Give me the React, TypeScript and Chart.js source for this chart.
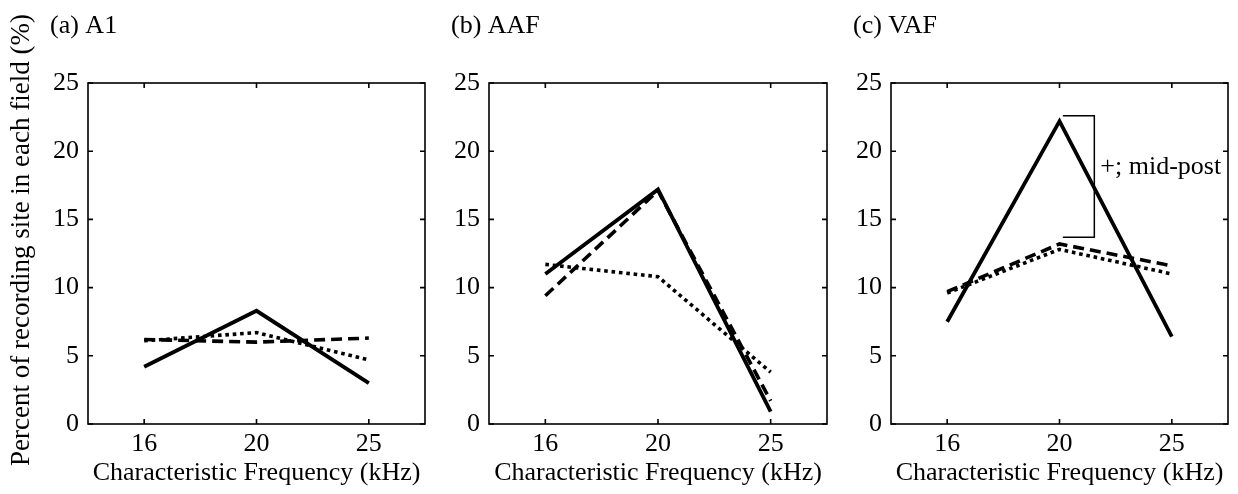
import React, { useEffect, useRef } from 'react';
import { Chart, registerables } from 'chart.js';

Chart.register(...registerables);

const categories = ['16', '20', '25'];
const yMin = 0;
const yMax = 25;
const yStep = 5;

const a1Solid = [4.2, 8.3, 3.0];
const a1Dashed = [6.2, 6.0, 6.3];
const a1Dotted = [6.1, 6.7, 4.7];

const aafSolid = [11.0, 17.2, 0.9];
const aafDashed = [9.4, 17.1, 1.7];
const aafDotted = [11.7, 10.8, 3.8];

const vafSolid = [7.5, 22.2, 6.4];
const vafDashed = [9.7, 13.2, 11.6];
const vafDotted = [9.6, 12.8, 11.0];

const panelTitles = ['(a) A1', '(b) AAF', '(c) VAF'];
const xAxisTitle = 'Characteristic Frequency (kHz)';
const yAxisTitle = 'Percent of recording site in each field (%)';

// annotation in panel (c), in data units
const bracketLabel = '+; mid-post';
const bracketX = [1.03, 1.31];
const bracketY = [13.7, 22.6];
const bracketLabelY = 18.8;

const FONT = '"Liberation Serif", "Times New Roman", serif';
const FS = 26;

type Panel = {
  title: string;
  solid: number[];
  dashed: number[];
  dotted: number[];
  left: number;
  width: number;
  yAxisWidth: number;
  padRight: number;
  showYTitle: boolean;
  bracket: boolean;
};

const panels: Panel[] = [
  { title: panelTitles[0], solid: a1Solid, dashed: a1Dashed, dotted: a1Dotted, left: 0, width: 430, yAxisWidth: 88, padRight: 5, showYTitle: true, bracket: false },
  { title: panelTitles[1], solid: aafSolid, dashed: aafDashed, dotted: aafDotted, left: 430, width: 400, yAxisWidth: 59, padRight: 3, showYTitle: false, bracket: false },
  { title: panelTitles[2], solid: vafSolid, dashed: vafDashed, dotted: vafDotted, left: 830, width: 408, yAxisWidth: 61, padRight: 10, showYTitle: false, bracket: true },
];

const HEIGHT = 494;

function PanelChart({ p }: { p: Panel }) {
  const ref = useRef<HTMLCanvasElement | null>(null);
  useEffect(() => {
    if (!ref.current) return;
    const decor = {
      id: 'decor',
      afterDraw(chart: any) {
        const ctx = chart.ctx;
        const a = chart.chartArea;
        const xs = chart.scales.x;
        const ys = chart.scales.y;
        ctx.save();
        ctx.strokeStyle = '#000';
        ctx.lineWidth = 1.6;
        ctx.strokeRect(a.left, a.top, a.right - a.left, a.bottom - a.top);
        const tl = 5;
        ctx.beginPath();
        for (let i = 0; i < categories.length; i++) {
          const px = xs.getPixelForTick(i);
          ctx.moveTo(px, a.bottom);
          ctx.lineTo(px, a.bottom - tl);
          ctx.moveTo(px, a.top);
          ctx.lineTo(px, a.top + tl);
        }
        for (let v = yMin; v <= yMax; v += yStep) {
          const py = ys.getPixelForValue(v);
          ctx.moveTo(a.left, py);
          ctx.lineTo(a.left + tl, py);
          ctx.moveTo(a.right, py);
          ctx.lineTo(a.right - tl, py);
        }
        ctx.stroke();

        ctx.fillStyle = '#000';
        ctx.font = `${FS}px ${FONT}`;
        ctx.textAlign = 'left';
        ctx.textBaseline = 'middle';
        ctx.fillText(p.title, a.left - 38, 26);

        if (p.showYTitle) {
          ctx.save();
          ctx.translate(a.left - 66, 240);
          ctx.rotate(-Math.PI / 2);
          ctx.textAlign = 'center';
          ctx.textBaseline = 'middle';
          ctx.font = `${FS + 1}px ${FONT}`;
          ctx.fillText(yAxisTitle, 0, 0);
          ctx.restore();
        }

        if (p.bracket) {
          const x1 = xs.getPixelForValue(bracketX[0]);
          const x2 = xs.getPixelForValue(bracketX[1]);
          const y1 = ys.getPixelForValue(bracketY[1]);
          const y2 = ys.getPixelForValue(bracketY[0]);
          ctx.lineWidth = 1.5;
          ctx.beginPath();
          ctx.moveTo(x1, y1);
          ctx.lineTo(x2, y1);
          ctx.lineTo(x2, y2);
          ctx.lineTo(x1, y2);
          ctx.stroke();
          ctx.textAlign = 'left';
          ctx.textBaseline = 'middle';
          ctx.fillText(bracketLabel, x2 + 6, ys.getPixelForValue(bracketLabelY));
        }
        ctx.restore();
      },
    };

    const lineBase = { borderColor: '#000', borderWidth: 3.6, pointRadius: 0, fill: false, tension: 0 };
    const chart = new Chart(ref.current, {
      type: 'line',
      data: {
        labels: categories,
        datasets: [
          { ...lineBase, label: 'dotted', data: p.dotted, borderDash: [3.6, 3.8] },
          { ...lineBase, label: 'dashed', data: p.dashed, borderDash: [11, 6] },
          { ...lineBase, label: 'solid', data: p.solid, borderWidth: 3.8 },
        ],
      },
      options: {
        animation: false,
        responsive: false,
        devicePixelRatio: 1,
        layout: { padding: { left: 0, right: p.padRight, top: 83, bottom: 0 } },
        plugins: { legend: { display: false }, tooltip: { enabled: false }, title: { display: false } },
        scales: {
          x: {
            type: 'category',
            offset: true,
            grid: { display: false, drawTicks: false },
            border: { display: false },
            ticks: { color: '#000', font: { family: FONT, size: FS, lineHeight: 1.2 }, padding: 5, maxRotation: 0 },
            title: { display: true, text: xAxisTitle, color: '#000', font: { family: FONT, size: FS, lineHeight: 1.2 }, padding: { top: 0, bottom: 5 } },
            afterFit: (s: any) => { s.height = 70; },
          },
          y: {
            min: yMin,
            max: yMax,
            grid: { display: false, drawTicks: false },
            border: { display: false },
            ticks: { stepSize: yStep, color: '#000', font: { family: FONT, size: FS, lineHeight: 1.2 }, padding: 9 },
            afterFit: (s: any) => { s.width = p.yAxisWidth; },
          },
        },
      },
      plugins: [decor],
    });
    return () => chart.destroy();
  }, [p]);
  return (
    <canvas
      ref={ref}
      width={p.width}
      height={HEIGHT}
      style={{ position: 'absolute', left: p.left, top: 0, width: p.width, height: HEIGHT }}
    />
  );
}

export default function App() {
  return (
    <div style={{ position: 'absolute', left: 0, top: 0, width: 1238, height: HEIGHT, background: '#fff' }}>
      {panels.map((p, i) => (
        <PanelChart key={i} p={p} />
      ))}
    </div>
  );
}
